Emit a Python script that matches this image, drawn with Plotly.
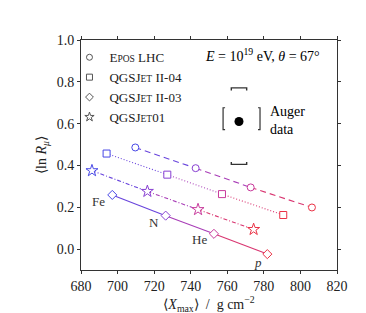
import plotly.graph_objects as go

# ---- data ----
compositions = ["Fe", "N", "He", "p"]
comp_colors = ["#4747e6", "#8840d2", "#c83a9c", "#ea3246"]

models = ["EPOS LHC", "QGSJet II-04", "QGSJet II-03", "QGSJet01"]
xmax_epos = [709.7, 742.7, 772.8, 806.3]
lnr_epos = [0.486, 0.387, 0.295, 0.199]
xmax_qii04 = [694.0, 727.2, 757.1, 790.6]
lnr_qii04 = [0.457, 0.356, 0.263, 0.163]
xmax_qii03 = [697.1, 726.3, 752.7, 781.9]
lnr_qii03 = [0.259, 0.160, 0.073, -0.024]
xmax_q01 = [686.0, 716.3, 744.0, 774.4]
lnr_q01 = [0.375, 0.276, 0.189, 0.094]

label_x = [689.3, 719.9, 744.9, 776.8]
label_y = [0.229, 0.129, 0.044, -0.062]

auger_x = 766.4
auger_y = 0.61
auger_xsys_lo, auger_xsys_hi = 757.7, 777.9
auger_ysys_lo, auger_ysys_hi = 0.405, 0.771
auger_ybr_lo, auger_ybr_hi = 0.571, 0.676

x_ticks = [680, 700, 720, 740, 760, 780, 800, 820]
y_ticks = [0.0, 0.2, 0.4, 0.6, 0.8, 1.0]

FONT = "Liberation Serif"

def hex2rgb(h):
    h = h.lstrip("#")
    return tuple(int(h[i:i + 2], 16) for i in (0, 2, 4))

def mix(c1, c2, t=0.5):
    a, b = hex2rgb(c1), hex2rgb(c2)
    return "rgb(%d,%d,%d)" % tuple(round(a[i] + (b[i] - a[i]) * t) for i in range(3))

DASHES = {"dash": "6px,4px", "dot": "1px,2px", "dashdot": "4px,2px,1px,2px", "solid": "solid"}

series = [
    ("E<span style='font-size:9.5px'>POS</span> LHC", xmax_epos, lnr_epos, "dash", "circle"),
    ("QGSJ<span style='font-size:9.5px'>ET</span> II-04", xmax_qii04, lnr_qii04, "dot", "square"),
    ("QGSJ<span style='font-size:9.5px'>ET</span> II-03", xmax_qii03, lnr_qii03, "solid", "diamond"),
    ("QGSJ<span style='font-size:9.5px'>ET</span>01", xmax_q01, lnr_q01, "dashdot", "star"),
]

fig = go.Figure()

for name, xs, ys, dash, sym in series:
    # gradient line segments
    for i in range(len(xs) - 1):
        fig.add_trace(go.Scatter(
            x=[xs[i], xs[i + 1]], y=[ys[i], ys[i + 1]], mode="lines",
            line=dict(color=mix(comp_colors[i], comp_colors[i + 1]), width=1.1, dash=DASHES[dash]),
            showlegend=False, hoverinfo="skip"))
    fig.add_trace(go.Scatter(
        x=xs, y=ys, mode="markers",
        marker=dict(symbol=sym, size=7 if sym != "star" else 9, color="white",
                    line=dict(color=comp_colors, width=1)),
        showlegend=False))
    # legend entry
    fig.add_trace(go.Scatter(
        x=[None], y=[None], mode="markers", name=name,
        marker=dict(symbol=sym, size=6 if sym != "star" else 7, color="white",
                    line=dict(color="#555555", width=1))))

# composition labels
for lab, lx, ly in zip(compositions, label_x, label_y):
    fig.add_annotation(x=lx, y=ly, text=("<i>p</i>" if lab == "p" else lab),
                       showarrow=False, font=dict(family=FONT, size=13, color="#333333"))

# Auger data point
fig.add_trace(go.Scatter(x=[auger_x], y=[auger_y], mode="markers",
                         marker=dict(color="black", size=9), showlegend=False))
# systematic caps in ln R (top and bottom brackets)
cw = 4.2
cd = 0.012
fig.add_trace(go.Scatter(
    x=[auger_x - cw, auger_x - cw, auger_x + cw, auger_x + cw, None,
       auger_x - cw, auger_x - cw, auger_x + cw, auger_x + cw],
    y=[auger_ysys_hi - cd, auger_ysys_hi, auger_ysys_hi, auger_ysys_hi - cd, None,
       auger_ysys_lo + cd, auger_ysys_lo, auger_ysys_lo, auger_ysys_lo + cd],
    mode="lines", line=dict(color="#333333", width=1.4), showlegend=False, hoverinfo="skip"))
# systematic brackets in Xmax
sw = 1.1
fig.add_trace(go.Scatter(
    x=[auger_xsys_lo + sw, auger_xsys_lo, auger_xsys_lo, auger_xsys_lo + sw, None,
       auger_xsys_hi - sw, auger_xsys_hi, auger_xsys_hi, auger_xsys_hi - sw],
    y=[auger_ybr_hi, auger_ybr_hi, auger_ybr_lo, auger_ybr_lo, None,
       auger_ybr_hi, auger_ybr_hi, auger_ybr_lo, auger_ybr_lo],
    mode="lines", line=dict(color="#333333", width=1.2), showlegend=False, hoverinfo="skip"))

fig.add_annotation(x=782.0, y=auger_y + 0.005, xanchor="left", yanchor="middle",
                   text="Auger<br>data", showarrow=False, align="left",
                   font=dict(family=FONT, size=14, color="black"))

fig.add_annotation(xref="paper", yref="paper", x=0.71, y=0.935, xanchor="center", yanchor="middle",
                   text="<i>E</i> = 10<sup>19</sup> eV, <i>θ</i> = 67°", showarrow=False,
                   font=dict(family=FONT, size=14, color="black"))

axis_common = dict(showgrid=False, zeroline=False, showline=True, linecolor="#333333",
                   linewidth=1, mirror="ticks", ticks="outside", ticklen=3,
                   tickcolor="#333333", tickfont=dict(family=FONT, size=14, color="#222222"))

fig.update_xaxes(range=[680, 820], tickvals=x_ticks, ticktext=[str(v) for v in x_ticks],
                 title=dict(text="⟨<i>X</i><sub>max</sub>⟩  /  g cm<sup>−2</sup>",
                            font=dict(family=FONT, size=14, color="#222222"), standoff=2),
                 **axis_common)
fig.update_yaxes(range=[-0.1, 1.0], tickvals=y_ticks, ticktext=["%.1f" % v for v in y_ticks],
                 title=dict(text="⟨ln <i>R</i><sub><i>μ</i></sub>⟩",
                            font=dict(family=FONT, size=14, color="#222222"), standoff=6),
                 **axis_common)

fig.update_layout(
    width=366, height=313,
    margin=dict(l=73, r=37, t=32, b=51),
    paper_bgcolor="white", plot_bgcolor="white",
    font=dict(family=FONT, size=13, color="#222222"),
    legend=dict(x=-0.045, y=0.99, xanchor="left", yanchor="top", bgcolor="rgba(0,0,0,0)",
                font=dict(family=FONT, size=13, color="#222222"), itemwidth=30,
                tracegroupgap=0),
)

fig.write_html("out.html")
